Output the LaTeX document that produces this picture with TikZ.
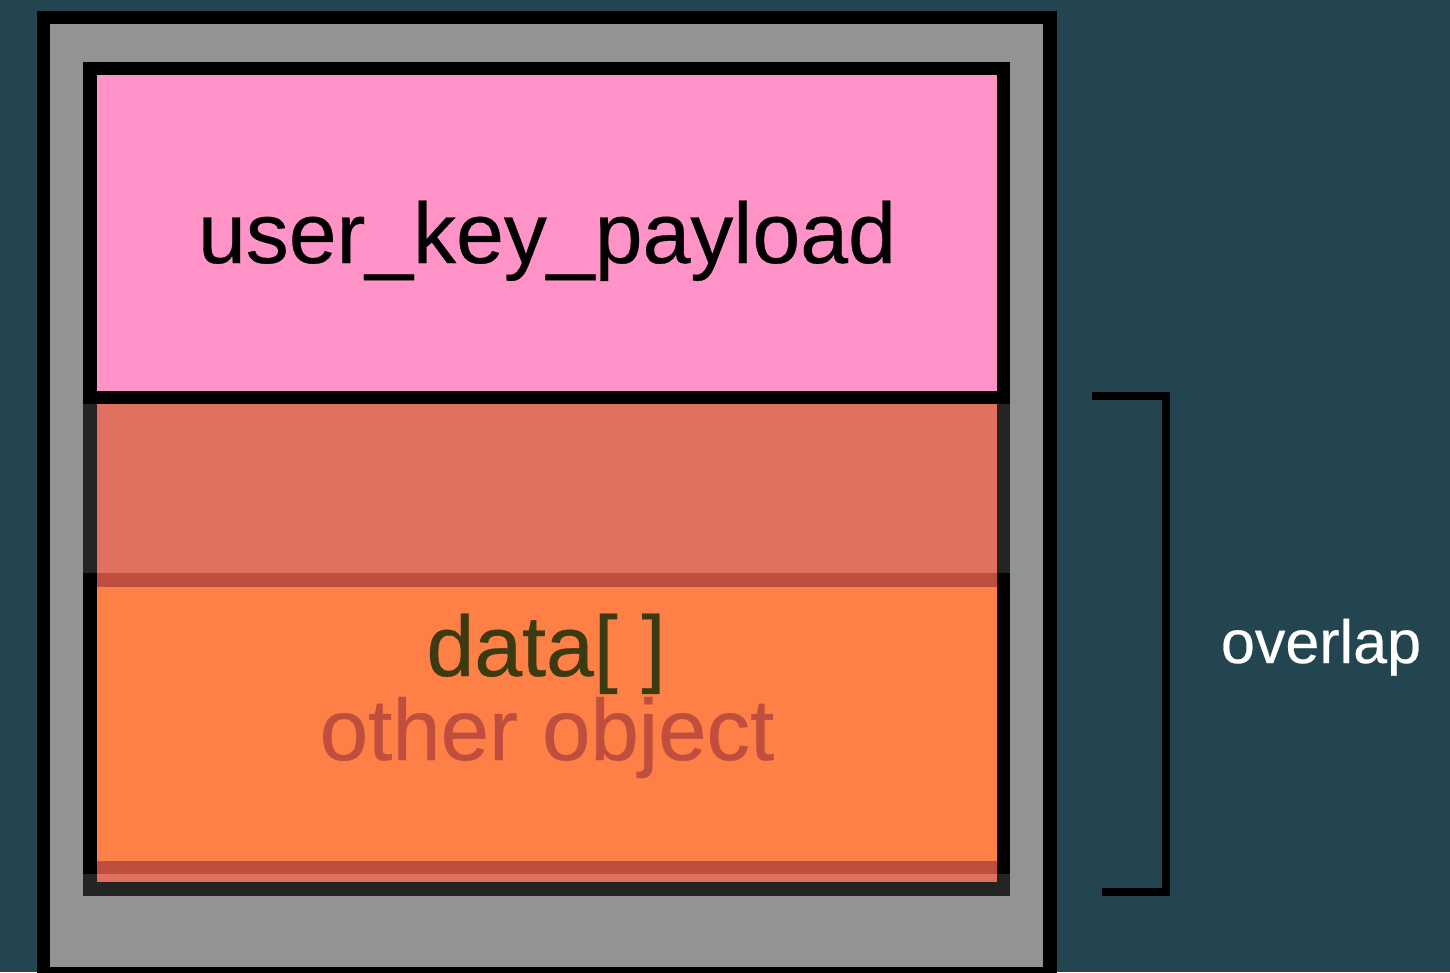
\documentclass[tikz,border=0pt]{standalone}
\usepackage{fontspec}
\setmainfont{Liberation Sans}[FakeBold=0.4]
\definecolor{bgcol}{RGB}{34,69,79}
\definecolor{grayfill}{RGB}{147,147,147}
\definecolor{pinkfill}{RGB}{255,147,200}
\definecolor{redfill}{RGB}{226,112,96}
\definecolor{darkred}{RGB}{192,78,62}
\definecolor{orangefill}{RGB}{255,128,70}
\definecolor{darkedge}{RGB}{36,36,36}
\definecolor{olivetext}{RGB}{60,58,16}
\begin{document}
\begin{tikzpicture}[x=1pt,y=-1pt,
  frame/.style={draw=black, line width=13.5pt},
  lbl/.style={anchor=base, inner sep=0pt, font=\fontsize{86}{86}\selectfont},
  bracketline/.style={draw=black, line width=8pt, miter limit=10}]
\useasboundingbox (0,0) rectangle (1450,972);
\clip (0,0) rectangle (1450,972);
\fill[bgcol] (0,0) rectangle (1450,972);
% outer object
\draw[frame, fill=grayfill] (43.5,17.5) rectangle (1050,973.5);
% overlapping other object
\fill[darkedge] (83,404) rectangle (1010,896);
\fill[redfill] (97,404) rectangle (997,882);
% data[] region
\fill[black] (83,573) rectangle (97,874);
\fill[black] (997,573) rectangle (1010,874);
\fill[darkred] (97,573) rectangle (997,587);
\fill[darkred] (97,861) rectangle (997,874);
\fill[orangefill] (97,587) rectangle (997,861);
% user_key_payload header
\draw[frame, fill=pinkfill] (90,68.3) rectangle (1003.5,397.5);
% texts
\node[lbl] (payload) at (547,263) {user\_key\_payload};
\node[lbl, text=olivetext] (data) at (546,676) {data[ ]};
\node[lbl, text=darkred, font=\fontsize{87}{87}\selectfont] (other) at (547,760) {other object};
\node[anchor=base, inner sep=0pt, font=\fontsize{61}{61}\selectfont, text=white] (overlap) at (1321,663) {overlap};
% bracket
\coordinate (btop) at (1092,396);
\coordinate (bbot) at (1102,892);
\draw[bracketline] (btop) -- (1166,396) -- (1166,892) -- (bbot);
\end{tikzpicture}
\end{document}
